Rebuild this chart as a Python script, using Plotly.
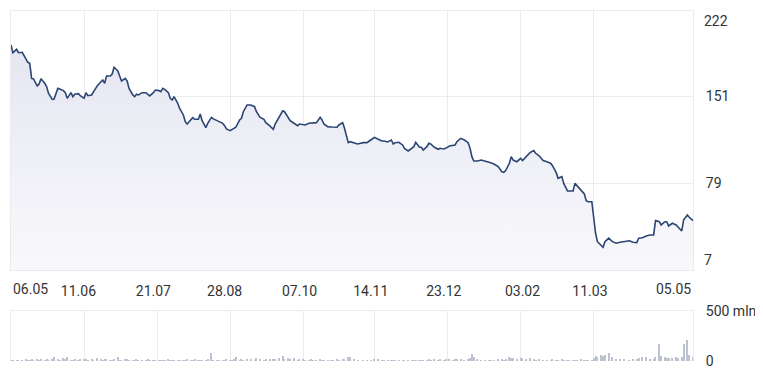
import pandas as pd
import plotly.graph_objects as go

# ---------------- data ----------------
start_date = "2024-05-06"
end_date = "2025-05-05"

# day offsets from start_date for every sampled point
day_offsets = [
    0, 1, 3, 4, 6, 8, 9, 10, 11, 12,
    14, 15, 16, 18, 19, 20, 22, 23, 25, 26,
    28, 29, 30, 32, 33, 34, 36, 37, 39, 40,
    41, 43, 44, 46, 48, 49, 50, 51, 53, 54,
    55, 57, 58, 59, 61, 62, 63, 65, 66, 67,
    68, 70, 72, 73, 74, 76, 77, 79, 80, 81,
    82, 84, 85, 86, 87, 89, 90, 92, 93, 94,
    96, 97, 98, 100, 101, 102, 104, 105, 107, 108,
    110, 111, 113, 114, 115, 117, 118, 119, 120, 122,
    123, 124, 126, 128, 130, 131, 133, 135, 136, 138,
    140, 141, 143, 145, 146, 148, 149, 151, 153, 154,
    156, 157, 159, 160, 161, 163, 165, 166, 167, 169,
    171, 172, 174, 175, 177, 178, 180, 181, 183, 185,
    188, 190, 192, 194, 196, 198, 199, 201, 203, 204,
    205, 207, 209, 210, 212, 214, 215, 216, 218, 219,
    220, 222, 223, 224, 226, 228, 229, 231, 232, 234,
    236, 237, 238, 240, 242, 244, 245, 246, 247, 249,
    251, 253, 255, 256, 258, 260, 262, 263, 264, 266,
    267, 268, 270, 272, 273, 275, 277, 279, 280, 282,
    284, 286, 288, 289, 291, 292, 294, 295, 297, 298,
    300, 301, 302, 304, 306, 307, 308, 310, 311, 312,
    313, 315, 316, 317, 319, 321, 323, 325, 327, 330,
    332, 334, 335, 337, 339, 341, 343, 344, 346, 347,
    349, 350, 351, 353, 355, 356, 358, 359, 361, 362,
    364,
]

prices = [
    193.8, 187.4, 190.2, 187.4, 187.7, 182.7, 179.4, 178.6, 166.0, 165.6,
    159.8, 161.4, 165.8, 162.0, 159.2, 153.7, 148.7, 149.0, 157.8, 157.3,
    155.9, 154.2, 149.5, 154.2, 150.9, 152.9, 153.4, 151.7, 149.5, 154.2,
    151.7, 152.3, 155.0, 159.8, 163.3, 164.7, 162.0, 168.0, 168.0, 169.7,
    175.3, 172.2, 168.0, 163.9, 166.0, 163.9, 157.8, 152.3, 150.9, 152.9,
    152.3, 154.2, 154.2, 153.1, 151.5, 154.2, 156.4, 155.9, 155.0, 157.8,
    157.0, 154.2, 149.5, 148.1, 150.9, 145.4, 141.2, 135.7, 130.1, 128.2,
    131.5, 133.4, 132.1, 132.1, 136.5, 131.0, 125.1, 128.8, 133.7, 132.4,
    131.0, 130.1, 128.8, 126.8, 124.1, 122.7, 123.8, 124.6, 125.5, 131.5,
    132.9, 138.4, 144.0, 144.0, 142.6, 138.4, 133.7, 132.1, 129.3, 126.8,
    123.8, 128.2, 134.3, 139.2, 138.4, 132.9, 131.0, 128.8, 126.8, 128.2,
    127.4, 127.4, 128.8, 128.8, 129.3, 129.3, 133.7, 131.5, 128.2, 126.0,
    125.7, 125.7, 125.5, 127.4, 129.3, 124.6, 112.7, 113.5, 112.7, 111.6,
    112.7, 112.7, 114.9, 117.1, 115.5, 114.1, 114.1, 113.3, 114.9, 111.6,
    112.7, 113.0, 110.8, 108.0, 105.8, 108.0, 109.4, 113.0, 108.9, 108.9,
    106.6, 109.4, 112.2, 111.6, 108.9, 107.2, 108.0, 107.5, 108.0, 109.9,
    110.5, 110.8, 113.5, 116.3, 114.9, 112.7, 108.0, 101.1, 97.5, 97.5,
    98.3, 97.5, 96.9, 96.1, 94.8, 92.8, 88.6, 88.1, 89.5, 95.6,
    101.1, 98.3, 96.9, 99.7, 97.8, 101.1, 104.4, 106.1, 103.9, 101.6,
    97.8, 96.9, 95.6, 93.6, 87.8, 83.1, 84.5, 78.9, 72.6, 72.6,
    72.6, 78.9, 77.0, 74.0, 70.1, 64.6, 63.7, 63.7, 51.3, 37.5,
    30.5, 27.8, 25.8, 30.5, 33.4, 30.5, 29.2, 30.0, 30.5, 31.3,
    30.0, 29.7, 33.4, 33.8, 35.3, 36.1, 36.1, 48.0, 47.1, 44.4,
    47.1, 47.1, 43.6, 45.8, 44.4, 42.5, 39.4, 48.6, 52.7, 50.8,
    48.0,
]

volumes_mln = [
    12, 15, 10, 14, 12, 18, 15, 12, 20, 14,
    16, 12, 18, 14, 20, 15, 22, 38, 18, 14,
    35, 18, 40, 15, 12, 20, 14, 16, 22, 18,
    15, 20, 14, 35, 18, 12, 16, 22, 15, 14,
    18, 36, 14, 12, 16, 20, 14, 12, 15, 18,
    12, 14, 10, 16, 12, 14, 10, 12, 15, 14,
    12, 16, 14, 10, 12, 15, 12, 14, 10, 16,
    12, 14, 16, 12, 10, 14, 12, 16, 85, 14,
    12, 10, 14, 12, 16, 12, 14, 18, 40, 15,
    18, 14, 16, 22, 15, 30, 18, 14, 20, 16,
    18, 22, 30, 50, 20, 35, 18, 35, 15, 20,
    16, 14, 12, 18, 14, 12, 16, 14, 12, 15,
    14, 12, 16, 14, 18, 20, 45, 40, 18, 14,
    12, 14, 10, 20, 18, 14, 12, 10, 14, 12,
    10, 12, 14, 10, 12, 14, 10, 12, 14, 12,
    14, 12, 16, 14, 18, 12, 20, 14, 18, 16,
    14, 16, 18, 20, 15, 22, 30, 75, 40, 18,
    14, 12, 10, 12, 14, 16, 18, 14, 20, 40,
    30, 35, 25, 35, 30, 22, 30, 18, 14, 16,
    12, 14, 10, 16, 12, 14, 18, 12, 14, 10,
    12, 14, 10, 16, 12, 15, 14, 12, 30, 50,
    45, 60, 55, 60, 83, 40, 25, 20, 18, 14,
    18, 20, 30, 40, 40, 25, 20, 45, 173, 50,
    45, 35, 30, 35, 40, 30, 38, 170, 207, 60,
    45,
]

tick_dates = ["2024-05-06", "2024-06-11", "2024-07-21", "2024-08-28", "2024-10-07",
              "2024-11-14", "2024-12-23", "2025-02-03", "2025-03-11", "2025-05-05"]
tick_labels = ["06.05", "11.06", "21.07", "28.08", "07.10",
               "14.11", "23.12", "03.02", "11.03", "05.05"]
grid_dates = ["2024-06-14", "2024-07-23", "2024-08-31", "2024-10-09",
              "2024-11-16", "2024-12-25", "2025-02-02", "2025-03-13"]

price_range = [7, 222]
price_ticks = [7, 79, 151, 222]
volume_range = [0, 500]
volume_ticks = [0, 500]
volume_tick_labels = ["0", "500 mln"]

# ---------------- figure ----------------
dates = pd.Timestamp(start_date) + pd.to_timedelta(day_offsets, unit="D")

GRID = "#ebebee"
TEXT = "#333333"
LINE = "#2b4672"
FONT = "Roboto"
main_bottom = 0.26
vol_top = 0.143
BODY = 8  # default page margin of the HTML body

fig = go.Figure()
fig.add_trace(go.Scatter(
    x=dates, y=prices, mode="lines",
    line=dict(color=LINE, width=1.6),
    fill="tozeroy",
    fillgradient=dict(type="vertical",
                      colorscale=[[0, "rgb(249,249,252)"], [1, "rgb(230,230,242)"]]),
    xaxis="x", yaxis="y", hoverinfo="skip",
))
fig.add_trace(go.Bar(
    x=dates, y=volumes_mln,
    marker=dict(color="#bcc2cf", line=dict(width=0)),
    width=0.6 * 86400000,
    xaxis="x2", yaxis="y2", hoverinfo="skip",
))

annotations = [
    dict(text=tick_labels[0], x=tick_dates[0], xref="x", y=main_bottom, yref="paper",
         xanchor="left", yanchor="middle", yshift=-19, showarrow=False,
         font=dict(family=FONT, size=14, color=TEXT)),
    dict(text=tick_labels[-1], x=tick_dates[-1], xref="x", y=main_bottom, yref="paper",
         xanchor="right", yanchor="middle", yshift=-19, showarrow=False,
         font=dict(family=FONT, size=14, color=TEXT)),
    dict(text=str(price_ticks[-1]), x=1, xref="paper", y=price_ticks[-1], yref="y",
         xanchor="left", yanchor="top", xshift=9, yshift=0, showarrow=False,
         font=dict(family=FONT, size=14, color=TEXT)),
    dict(text=str(price_ticks[0]), x=1, xref="paper", y=price_ticks[0], yref="y",
         xanchor="left", yanchor="bottom", xshift=9, yshift=0, showarrow=False,
         font=dict(family=FONT, size=14, color=TEXT)),
]

fig.update_layout(
    width=763 - BODY, height=377 - BODY,
    margin=dict(l=11 - BODY, r=70, t=11 - BODY, b=16, autoexpand=False),
    paper_bgcolor="white", plot_bgcolor="white",
    showlegend=False, bargap=0,
    font=dict(family=FONT, size=14, color=TEXT),
    annotations=annotations,
    xaxis=dict(
        domain=[0, 1], anchor="y", type="date", automargin=False,
        range=[start_date, end_date],
        tickmode="array", tickvals=tick_dates[1:-1], ticktext=tick_labels[1:-1],
        showgrid=False, zeroline=False, ticks="",
        minor=dict(tickmode="array", tickvals=grid_dates, showgrid=True,
                   gridcolor=GRID, gridwidth=1, ticks=""),
        showline=True, mirror=True, linecolor=GRID, linewidth=1,
        ticklabelstandoff=8,
    ),
    yaxis=dict(
        domain=[main_bottom, 1], anchor="x", side="right", automargin=False,
        range=price_range,
        tickmode="array", tickvals=price_ticks[1:-1],
        ticktext=[str(v) for v in price_ticks[1:-1]],
        showgrid=True, gridcolor=GRID, gridwidth=1, zeroline=False, ticks="",
        showline=True, mirror=True, linecolor=GRID, linewidth=1,
        ticklabelstandoff=9,
    ),
    xaxis2=dict(
        domain=[0, 1], anchor="y2", type="date", matches="x", automargin=False,
        showticklabels=False, showgrid=False, zeroline=False, ticks="",
        minor=dict(tickmode="array", tickvals=grid_dates, showgrid=True,
                   gridcolor=GRID, gridwidth=1, ticks=""),
        showline=True, side="top", linecolor=GRID, linewidth=1,
    ),
    yaxis2=dict(
        domain=[0, vol_top], anchor="x2", side="right", automargin=False,
        range=volume_range,
        tickmode="array", tickvals=volume_ticks, ticktext=volume_tick_labels,
        showgrid=False, zeroline=False, ticks="",
        showline=True, mirror=True, linecolor=GRID, linewidth=1,
        ticklabelstandoff=9,
    ),
)

fig.write_html("out.html")
